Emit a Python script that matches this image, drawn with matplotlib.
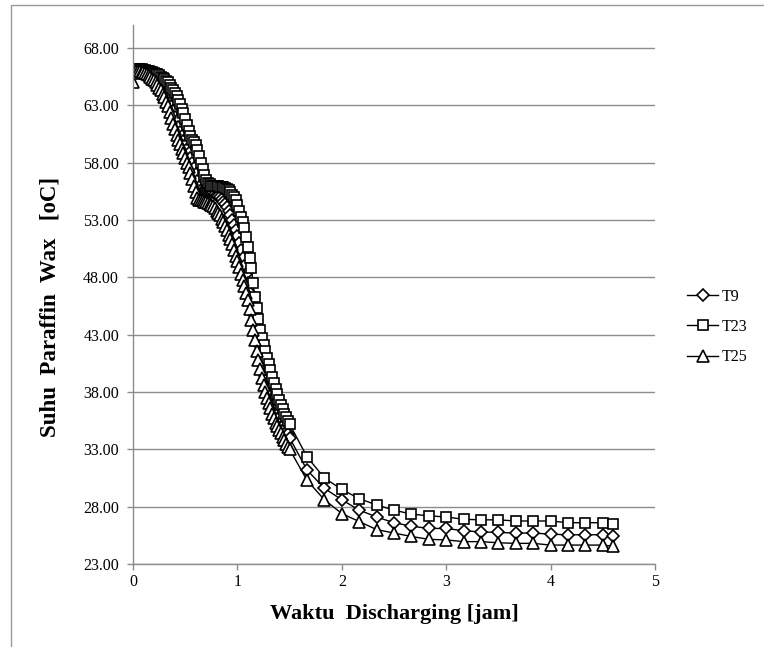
import numpy as np
import matplotlib.pyplot as plt
from matplotlib.patches import Rectangle

# time in minutes (1-min logging up to 90 min, then every 10 min)
minutes = [0, 1, 2, 3, 4, 5, 6, 7, 8, 9, 10, 11, 12, 13, 14, 15, 16, 17, 18, 19,
           20, 21, 22, 23, 24, 25, 26, 27, 28, 29, 30, 31, 32, 33, 34, 35, 36, 37, 38, 39,
           40, 41, 42, 43, 44, 45, 46, 47, 48, 49, 50, 51, 52, 53, 54, 55, 56, 57, 58, 59,
           60, 61, 62, 63, 64, 65, 66, 67, 68, 69, 70, 71, 72, 73, 74, 75, 76, 77, 78, 79,
           80, 81, 82, 83, 84, 85, 86, 87, 88, 89, 90,
           100, 110, 120, 130, 140, 150, 160, 170, 180, 190, 200, 210, 220, 230, 240,
           250, 260, 270, 276]

t9 = [65.8, 66.0, 66.1, 66.1, 66.1, 66.1, 66.0, 66.0, 65.9, 65.8, 65.7, 65.6, 65.5, 65.4, 65.2,
      65.0, 64.8, 64.6, 64.3, 64.0, 63.7, 63.3, 62.9, 62.5, 62.0, 61.6, 61.1, 60.7, 60.3, 59.9,
      59.5, 59.2, 58.8, 58.4, 58.0, 57.5, 57.0, 56.4, 55.9, 55.6, 55.5, 55.5, 55.5, 55.5, 55.5,
      55.4, 55.4, 55.3, 55.2, 55.1, 55.0, 54.8, 54.6, 54.4, 54.1, 53.8, 53.4, 53.0, 52.6, 52.1,
      51.6, 51.0, 50.4, 49.7, 49.0, 48.3, 47.5, 46.6, 45.7, 44.8, 43.9, 43.0, 42.2, 41.4, 40.7,
      40.0, 39.4, 38.8, 38.3, 37.8, 37.3, 36.9, 36.5, 36.1, 35.8, 35.4, 35.1, 34.8, 34.5, 34.3,
      34.0,
      31.2, 29.6, 28.6, 27.7, 27.1, 26.6, 26.3, 26.1, 26.1, 25.9, 25.8, 25.75, 25.7, 25.7, 25.6,
      25.55, 25.55, 25.55, 25.45]

t23 = [65.9, 66.1, 66.2, 66.2, 66.2, 66.2, 66.1, 66.1, 66.0, 66.0, 65.9, 65.9, 65.8, 65.7, 65.7,
       65.6, 65.5, 65.4, 65.3, 65.1, 65.0, 64.8, 64.5, 64.3, 64.1, 63.8, 63.5, 63.1, 62.7, 62.3,
       61.8, 61.3, 60.8, 60.3, 60.0, 59.8, 59.5, 59.1, 58.6, 58.0, 57.4, 56.9, 56.5, 56.2, 56.1,
       56.0, 56.0, 56.0, 56.0, 56.0, 55.9, 55.9, 55.9, 55.8, 55.7, 55.6, 55.4, 55.2, 55.0, 54.7,
       54.3, 53.8, 53.3, 52.8, 52.3, 51.5, 50.6, 49.7, 48.8, 47.5, 46.3, 45.3, 44.4, 43.4, 42.7,
       42.1, 41.6, 41.0, 40.4, 39.9, 39.3, 38.8, 38.3, 37.8, 37.3, 36.9, 36.5, 36.1, 35.8, 35.5,
       35.2,
       32.35, 30.5, 29.5, 28.7, 28.15, 27.7, 27.35, 27.2, 27.1, 26.9, 26.85, 26.85, 26.75, 26.75,
       26.75, 26.6, 26.6, 26.6, 26.5]

t25 = [65.0, 65.8, 66.0, 66.0, 66.0, 65.9, 65.9, 65.8, 65.7, 65.6, 65.5, 65.3, 65.2, 65.0, 64.8,
       64.5, 64.3, 64.0, 63.7, 63.3, 62.9, 62.4, 61.9, 61.4, 60.9, 60.4, 60.0, 59.6, 59.2, 58.8,
       58.4, 58.0, 57.6, 57.1, 56.6, 56.0, 55.4, 54.9, 54.7, 54.7, 54.7, 54.6, 54.6, 54.5, 54.4,
       54.3, 54.2, 54.0, 53.8, 53.6, 53.4, 53.1, 52.8, 52.5, 52.1, 51.7, 51.3, 50.9, 50.4, 49.9,
       49.4, 48.9, 48.3, 47.8, 47.2, 46.6, 46.0, 45.2, 44.3, 43.4, 42.5, 41.6, 40.8, 40.0, 39.2,
       38.6, 38.0, 37.5, 37.0, 36.6, 36.1, 35.7, 35.3, 35.0, 34.7, 34.4, 34.1, 33.8, 33.5, 33.2,
       33.0,
       30.3, 28.6, 27.4, 26.7, 26.0, 25.7, 25.4, 25.15, 25.1, 24.95, 24.95, 24.85, 24.8, 24.8,
       24.65, 24.65, 24.65, 24.65, 24.55]

series = [("T9", t9, "D", 6.5), ("T23", t23, "s", 7.5), ("T25", t25, "^", 8)]
yticks = [23, 28, 33, 38, 43, 48, 53, 58, 63, 68]

plt.rcParams['font.family'] = ['Liberation Serif', 'DejaVu Serif']

hours = np.array(minutes) / 60.0

fig = plt.figure(figsize=(7.64, 6.47), dpi=100)
ax = fig.add_axes([133/764, 1 - 564/647, (655-133)/764, (564-25)/647])

gray = '#8c8c8c'
for name, vals, mk, ms in series:
    ax.plot(hours, vals, color='black', lw=1.0, marker=mk, ms=ms,
            mfc='white', mec='black', mew=1.2, label=name)

ax.set_xlim(0, 5)
ax.set_ylim(23, 70)
ax.set_xticks([0, 1, 2, 3, 4, 5])
ax.set_yticks(yticks)
ax.set_yticklabels([f"{v:.2f}" for v in yticks])
ax.yaxis.grid(True, color=gray, lw=1.0)
ax.set_axisbelow(True)
for s in ['top', 'right']:
    ax.spines[s].set_visible(False)
for s in ['left', 'bottom']:
    ax.spines[s].set_color(gray)
    ax.spines[s].set_linewidth(1.0)
ax.tick_params(axis='both', colors=gray, labelcolor='black', labelsize=11.5, length=4, width=1.0)
ax.tick_params(axis='y', pad=6)

ax.set_xlabel("Waktu  Discharging [jam]", fontsize=16, fontweight='bold', labelpad=10)
ax.set_ylabel("Suhu  Paraffin  Wax   [oC]", fontsize=16.5, fontweight='bold')
ax.yaxis.set_label_coords(-0.138, 0.477)

fig.legend(loc='center left', bbox_to_anchor=(673/764, 1 - 327/647), frameon=False,
           fontsize=11.5, handlelength=1.9, labelspacing=0.9, handletextpad=0.25)

fig.patches.append(Rectangle((11/764, -0.05), 1.1, 1 - 5/647 + 0.05, transform=fig.transFigure,
                             fill=False, edgecolor='#9a9a9a', lw=1.0))

fig.savefig("out.png", dpi=100)
